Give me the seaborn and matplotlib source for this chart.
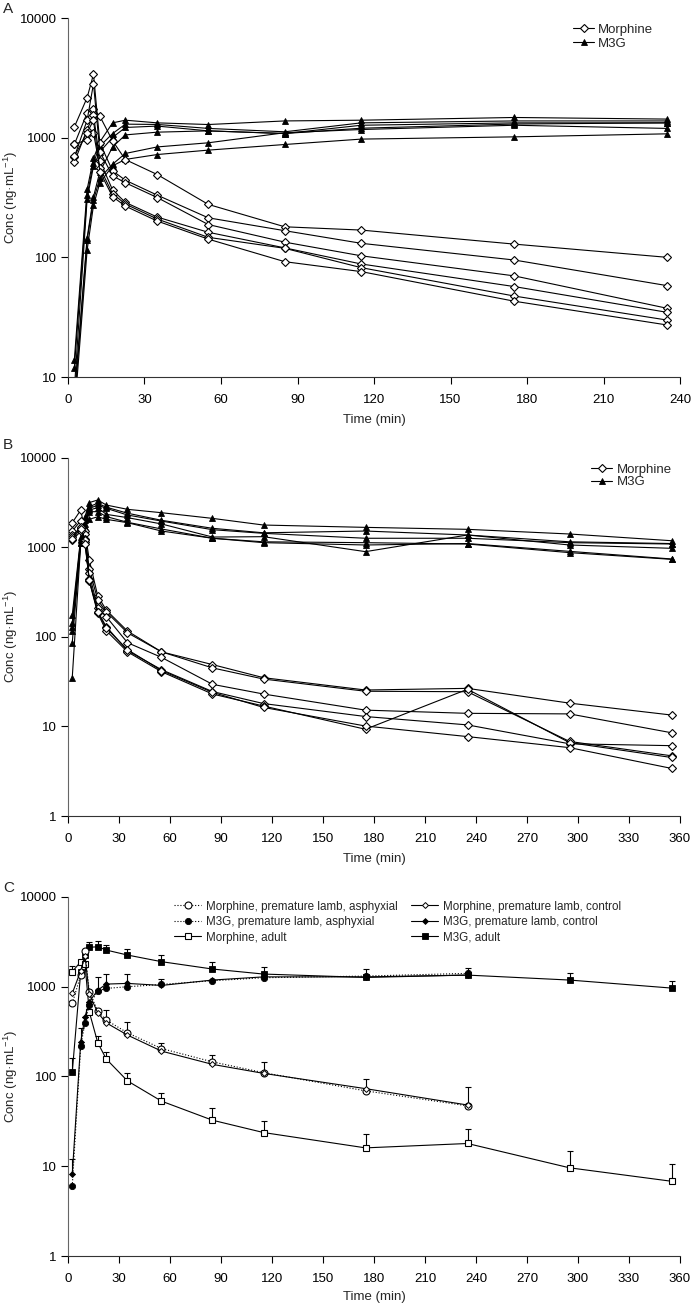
import numpy as np
import matplotlib
matplotlib.use("Agg")
import matplotlib.pyplot as plt
from matplotlib.lines import Line2D
import seaborn as sns

sns.set_style("ticks")
plt.rcParams['font.family'] = ['Liberation Sans', 'DejaVu Sans']
plt.rcParams['mathtext.fontset'] = 'custom'
plt.rcParams['mathtext.rm'] = 'Liberation Sans'
plt.rcParams['mathtext.default'] = 'regular'

# ---- Panel A: individual animals, 240 min ----
tA = [2.5, 7.5, 10, 12.5, 17.5, 22.5, 35, 55, 85, 115, 175, 235]
morphA = [
    [880, 1610, 1740, 1510, 940, 656, 492, 277, 180, 169, 129, 100],
    [1230, 2160, 3390, 900, 528, 441, 331, 214, 167, 131, 95, 58],
    [690, 1400, 2830, 760, 480, 420, 316, 188, 134, 103, 70, 37.5],
    [625, 1170, 1550, 640, 365, 288, 217, 162, 120, 88, 57, 34.7],
    [880, 960, 1100, 560, 340, 279, 209, 147, 119, 82, 47.5, 29.9],
    [700, 1100, 1400, 520, 321, 268, 201, 142, 92, 76, 43, 27.2],
]
m3gA = [
    [14, 370, 670, 922, 1330, 1400, 1330, 1288, 1380, 1400, 1475, 1430],
    [12, 330, 620, 850, 1083, 1297, 1290, 1195, 1120, 1330, 1380, 1380],
    [8, 307, 578, 762, 1005, 1217, 1250, 1140, 1083, 1270, 1330, 1330],
    [7, 146, 321, 519, 837, 1055, 1112, 1140, 1083, 1200, 1300, 1330],
    [6, 140, 300, 460, 601, 738, 837, 906, 1100, 1170, 1270, 1195],
    [5, 115, 272, 420, 582, 658, 723, 787, 877, 973, 1016, 1077],
]

# ---- Panel B: individual animals, 360 min ----
tB = [2.5, 7.5, 10, 12.5, 17.5, 22.5, 35, 55, 85, 115, 175, 235, 295, 355]
morphB = [
    [1880, 2600, 1500, 721, 286, 199, 116, 68, 49, 35, 25.5, 26.6, 18.2, 13.4],
    [1517, 1980, 1400, 572, 258, 190, 111, 68, 45, 33.8, 24.7, 24.4, 6.8, 4.7],
    [1370, 1627, 1250, 511, 208, 168, 86, 59, 29.5, 23, 15.2, 14.0, 13.8, 8.5],
    [1206, 1500, 1150, 438, 191, 130, 70, 43, 24.5, 18, 12.9, 10.4, 6.4, 6.1],
    [1300, 1700, 1200, 420, 183, 117, 68, 40.8, 23, 16.9, 9.3, 26, 6.6, 4.5],
    [1250, 1600, 1100, 430, 190, 125, 72, 42, 24, 16.3, 10.1, 7.7, 5.8, 3.4],
]
m3gB = [
    [175, 1300, 2190, 3150, 3370, 2960, 2650, 2430, 2100, 1770, 1667, 1585, 1406, 1183],
    [142, 1250, 2000, 2840, 3100, 2800, 2400, 2000, 1627, 1450, 1517, 1370, 1150, 1100],
    [130, 1200, 1800, 2700, 2960, 2720, 2290, 1960, 1570, 1430, 1260, 1260, 1125, 1087],
    [117, 1150, 1700, 2600, 2770, 2330, 2140, 1820, 1300, 1312, 893, 1370, 1060, 973],
    [86, 1107, 1600, 2490, 2500, 2200, 1900, 1600, 1260, 1150, 1125, 1087, 871, 733],
    [35, 1107, 1650, 2050, 2190, 2050, 1880, 1517, 1260, 1125, 1060, 1100, 900, 740],
]

# ---- Panel C: group means with upper SD ----
tC_lamb = tA
tC_adult = tB
morph_asph = [649, 1340, 2480, 875, 534, 423, 305, 204, 145, 110, 69, 47]
morph_asph_err = [0, 0, 0, 0, 0, 124, 100, 33, 27, 35, 24, 29]
m3g_asph = [6.0, 219, 394, 621, 889, 953, 994, 1055, 1160, 1253, 1307, 1400]
morph_ctrl = [838, 1500, 2200, 825, 511, 394, 288, 191, 136, 108, 73, 48]
m3g_ctrl = [8.1, 243, 460, 676, 912, 1064, 1083, 1028, 1180, 1280, 1280, 1340]
m3g_ctrl_err = [4, 100, 0, 0, 365, 306, 280, 200, 0, 0, 0, 0]
morph_adult = [1460, 1890, 1780, 524, 237, 156, 89, 53, 32.5, 23.7, 16, 17.9, 9.6, 6.8]
morph_adult_err = [220, 0, 0, 120, 44, 32, 21, 13, 11.5, 8.3, 6.7, 8.1, 5.2, 3.7]
m3g_adult = [111, 1462, 2240, 2730, 2770, 2545, 2240, 1890, 1565, 1376, 1262, 1340, 1180, 961]
m3g_adult_err = [50, 0, 250, 370, 430, 350, 350, 330, 325, 260, 290, 280, 220, 180]

FS = 9.5
fig = plt.figure(figsize=(6.91, 13.05), dpi=100)
axA = fig.add_axes([0.0984, 0.7111, 0.8857, 0.2751])
axB = fig.add_axes([0.0984, 0.3747, 0.8857, 0.2746])
axC = fig.add_axes([0.0984, 0.0375, 0.8857, 0.2754])

open_d = dict(marker="D", markersize=4, markerfacecolor="white",
              markeredgecolor="black", markeredgewidth=0.8)
tri = dict(marker="^", markersize=5, markerfacecolor="black",
           markeredgecolor="black", markeredgewidth=0.6)


def draw(ax, x, y, style="-", **kw):
    sns.lineplot(x=x, y=y, ax=ax, color="black", linewidth=0.8,
                 linestyle=style, estimator=None, sort=False, **kw)


for ax, t, morph, m3g in [(axA, tA, morphA, m3gA), (axB, tB, morphB, m3gB)]:
    for row in m3g:
        draw(ax, t, row, **tri)
    for row in morph:
        draw(ax, t, row, **open_d)

# panel C
def errs(ax, x, y, e):
    e = np.array(e, dtype=float)
    ax.errorbar(x, y, yerr=[np.zeros_like(e), e], fmt="none", ecolor="black",
                elinewidth=0.8, capsize=2.5, capthick=0.8)

errs(axC, tC_adult, m3g_adult, m3g_adult_err)
errs(axC, tC_adult, morph_adult, morph_adult_err)
errs(axC, tC_lamb, morph_asph, morph_asph_err)
errs(axC, tC_lamb, m3g_ctrl, m3g_ctrl_err)

st_ma = dict(marker="o", markersize=5, markerfacecolor="white", markeredgecolor="black", markeredgewidth=0.8)
st_ga = dict(marker="o", markersize=4.5, markerfacecolor="black", markeredgecolor="black", markeredgewidth=0.6)
st_mad = dict(marker="s", markersize=5, markerfacecolor="white", markeredgecolor="black", markeredgewidth=0.8)
st_gad = dict(marker="s", markersize=5, markerfacecolor="black", markeredgecolor="black", markeredgewidth=0.6)
st_mc = dict(marker="D", markersize=3, markerfacecolor="white", markeredgecolor="black", markeredgewidth=0.7)
st_gc = dict(marker="D", markersize=3, markerfacecolor="black", markeredgecolor="black", markeredgewidth=0.6)

draw(axC, tC_adult, m3g_adult, **st_gad)
draw(axC, tC_adult, morph_adult, **st_mad)
draw(axC, tC_lamb, m3g_asph, style=":", **st_ga)
draw(axC, tC_lamb, m3g_ctrl, **st_gc)
draw(axC, tC_lamb, morph_asph, style=":", **st_ma)
draw(axC, tC_lamb, morph_ctrl, **st_mc)

for ax, xmax, ymin, lab, ly, lp in [(axA, 240, 10, "A", 1.025, 6), (axB, 360, 1, "B", 1.035, 6),
                                    (axC, 360, 1, "C", 1.025, 4.5)]:
    ax.set_yscale("log")
    ax.set_ylim(ymin, 10000)
    ax.set_xlim(0, xmax)
    ticks = [v for v in [1, 10, 100, 1000, 10000] if v >= ymin]
    ax.set_yticks(ticks)
    ax.set_yticklabels([str(v) for v in ticks])
    ax.yaxis.set_minor_locator(matplotlib.ticker.NullLocator())
    ax.set_xticks(range(0, xmax + 1, 30))
    ax.tick_params(direction="out", length=5, width=0.8, labelsize=FS, colors="black")
    ax.tick_params(axis="x", pad=7)
    ax.tick_params(axis="y", pad=3)
    for s in ["top", "right"]:
        ax.spines[s].set_visible(False)
    ax.spines["left"].set_color("#666666")
    ax.spines["bottom"].set_color("#333333")
    ax.set_xlabel("Time (min)", fontsize=FS, labelpad=lp)
    ax.set_ylabel("Conc (ng·mL$^{-1}$)", fontsize=FS)
    ax.yaxis.set_label_coords(-0.078, 0.5)
    ax.text(-0.106, ly, lab, transform=ax.transAxes, fontsize=11, va="center", ha="left")

h_m = Line2D([], [], color="black", linewidth=0.8, **open_d)
h_g = Line2D([], [], color="black", linewidth=0.8, **tri)
axA.legend([h_m, h_g], ["Morphine", "M3G"], loc="upper left", bbox_to_anchor=(0.81, 1.01),
           frameon=False, fontsize=FS, handlelength=1.6, handletextpad=0.3,
           labelspacing=0.15, borderpad=0.2)
axB.legend([h_m, h_g], ["Morphine", "M3G"], loc="upper left", bbox_to_anchor=(0.84, 1.01),
           frameon=False, fontsize=FS, handlelength=1.6, handletextpad=0.3,
           labelspacing=0.05, borderpad=0.2)

hc = [Line2D([], [], color="black", linewidth=0.8, linestyle=":", **st_ma),
      Line2D([], [], color="black", linewidth=0.8, linestyle=":", **st_ga),
      Line2D([], [], color="black", linewidth=0.8, **st_mad),
      Line2D([], [], color="black", linewidth=0.8, **st_mc),
      Line2D([], [], color="black", linewidth=0.8, **st_gc),
      Line2D([], [], color="black", linewidth=0.8, **st_gad)]
lc = ["Morphine, premature lamb, asphyxial", "M3G, premature lamb, asphyxial",
      "Morphine, adult", "Morphine, premature lamb, control",
      "M3G, premature lamb, control", "M3G, adult"]
axC.legend(hc, lc, ncol=2, loc="upper left", bbox_to_anchor=(0.16, 1.012), frameon=False,
           fontsize=8.4, handlelength=2.3, handletextpad=0.4, columnspacing=1.2,
           labelspacing=0.3, borderpad=0.2)

fig.savefig("out.png", dpi=100)
